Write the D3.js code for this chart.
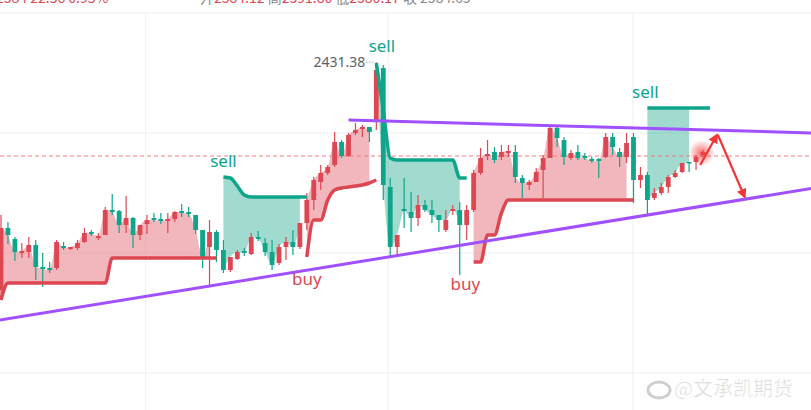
<!DOCTYPE html>
<html><head><meta charset="utf-8">
<script src="https://cdn.jsdelivr.net/npm/d3@7/dist/d3.min.js"></script>
<style>body{margin:0;background:#fff}svg{display:block}</style></head>
<body><svg id="c" width="811" height="410"></svg>
<script>
// [open, high, low, close]
const candles = [
[2317.5,2355,2312.5,2348.5],[2348.5,2351.5,2340.5,2345],[2343,2344,2332,2336.5],[2336,2341,2333.5,2337],
[2336.5,2344,2333.5,2340],[2340,2342.5,2322.5,2329],[2329,2336,2319,2328],[2328.5,2331.5,2326,2327.5],
[2328.5,2342.5,2327.5,2341.5],[2339.5,2341.5,2337.5,2338.5],[2338,2339,2337.5,2339],[2338.5,2342.5,2337.5,2341],
[2341.5,2348.5,2341,2346],[2346.5,2347.5,2344.5,2345.5],[2343.5,2346,2342.5,2344.5],[2345,2359,2345,2357.5],
[2357.5,2365.5,2355,2356.5],[2357,2357.5,2346,2350],[2350,2364.5,2346,2353.5],[2353.5,2354,2338.5,2345],
[2345,2350,2342.5,2350],[2350.5,2355,2345.5,2352.5],[2353.5,2356,2351.5,2352.5],[2353,2356,2350.5,2352],
[2352,2356,2346,2353],[2353,2357,2351.5,2356.5],[2357,2360.5,2354,2356],[2356.5,2359,2354,2355.5],
[2355,2355,2345.5,2347.5],[2347.5,2347.5,2328.5,2334],[2339,2352.5,2319.5,2346.5],[2346.5,2347.5,2331.5,2337.5],
[2337.5,2342.5,2326,2327.5],[2327.5,2334,2326.5,2334],[2333,2337.5,2332.5,2336.5],[2337,2338.5,2334.5,2336],
[2335.5,2346,2335,2344],[2344,2347,2342,2343],[2341,2343.5,2334.5,2336.5],[2336.5,2342.5,2327.5,2330],
[2331,2340.5,2330,2339],[2339,2344,2332.5,2341.5],[2341.5,2347.5,2335,2339],[2339,2351,2338,2351],
[2351,2366,2347.5,2362.5],[2362.5,2374,2357.5,2372.5],[2371.5,2380,2367.5,2376],[2376,2380,2375,2379],
[2380,2396.5,2379,2391.5],[2391.5,2392.5,2383.5,2384.5],[2384.5,2396,2384,2395],[2396,2401,2395,2397.5],
[2398,2400,2394,2399],[2399,2399,2391.5,2396.5],[2401.5,2431.38,2397.5,2427.5],[2428.5,2430,2362.5,2370],
[2369,2373.5,2334,2339],[2339,2345,2334,2345],[2358,2373.5,2348.5,2357],[2356.5,2366.5,2346.5,2353.5],
[2353.5,2365,2349.5,2360],[2360,2362.5,2356.5,2357.5],[2357.5,2362.5,2351,2355],[2355,2355,2346.5,2352.5],
[2347.5,2357.5,2346.5,2352.5],[2357,2360,2355,2358],[2357.5,2361.5,2325,2350],[2350,2360,2342.5,2357.5],
[2357.5,2377.5,2356.5,2376],[2376,2388.5,2375,2383.5],[2384.5,2392.5,2382.5,2385.5],[2386.5,2389,2381,2382.5],
[2384,2390,2382.5,2386.5],[2386,2390,2384,2387],[2386.5,2390,2371,2374],[2373.5,2375,2363.5,2371],
[2370,2372.5,2367.5,2371.5],[2371.5,2378.5,2371.5,2376.5],[2377.5,2385,2363.5,2383.5],[2383.5,2400,2383.5,2398.5],
[2398.5,2400,2389,2393.5],[2392.5,2394,2380,2384],[2383.5,2387.5,2382.5,2386],[2386.5,2390,2382.5,2383.5],
[2384.5,2386,2382.5,2383.5],[2383,2384,2381,2382],[2383,2383.5,2373.5,2382],[2384,2396,2383.5,2394],
[2394,2396,2385,2389],[2386.5,2388.5,2379,2384],[2384,2396,2381,2391],[2394,2396,2361,2372.5],
[2372.5,2379,2368.5,2375],[2375,2376.5,2355,2362.5],[2363.5,2368.5,2362.5,2366],[2366,2371,2365,2369],
[2369,2375,2366,2374],[2374,2377.5,2373.5,2376],[2376.5,2381,2376,2381],[2381.5,2381.5,2376.5,2381],
[2381.5,2385,2377.5,2384],[2385,2387.5,2384,2386.5]
];
const upSeg1 = {start:0, vals:[2312.5,2321,2321,2321,2321,2321,2321,2321,2321,2321,2321,2321,2321,2321,2321,2321,2333.5,2333.5,2333.5,2333.5,2333.5,2333.5,2333.5,2333.5,2333.5,2333.5,2333.5,2333.5,2333.5,2333.5,2333.5,2333.5], fillEnd:30};
const dnSeg1 = {start:32, vals:[2374,2373.5,2369.5,2365,2364,2364,2364,2364,2364,2364,2364,2364,2364], fillEnd:43};
const upSeg2 = {start:44, vals:[2334,2352.5,2352.5,2362.5,2367.5,2368.5,2369,2369.5,2370,2371,2372.5], fillEnd:53};
const dnSeg2 = {start:54, vals:[2431,2407.5,2383.5,2382.5,2382.5,2382.5,2382.5,2382.5,2382.5,2382.5,2382.5,2382.5,2373.5,2373.5], fillEnd:66};
const upSeg3 = {start:68, vals:[2331.5,2331.5,2345,2345,2356,2362.5,2362.5,2362.5,2362.5,2362.5,2362.5,2362.5,2362.5,2362.5,2362.5,2362.5,2362.5,2362.5,2362.5,2362.5,2362.5,2362.5,2362.5,2362.5], fillEnd:90};
const dnSeg3 = {start:93, vals:[2408.5,2408.5,2408.5,2408.5,2408.5,2408.5,2408.5,2408.5,2408.5,2408.5], fillEnd:99};
const upperTrend = [[50,2402.5],[117,2396]];
const lowerTrend = [[-0.2,2302.5],[117,2368.5]];
const lastPriceLine = 2384.5;
const arrowPts = [[100.6,2380],[103,2395],[107,2364]];
const gridPrices = [2456,2396,2336,2276];
const gridIdx = [20.8,55.7,90.9];
const labels = [
  {t:"sell", i:54.8, p:2436.5, c:"teal"},
  {t:"sell", i:32, p:2379, c:"teal"},
  {t:"buy", i:44, p:2320, c:"red"},
  {t:"buy", i:66.8, p:2317.5, c:"red"},
  {t:"sell", i:92.7, p:2413.5, c:"teal"}
];
const highLabel = {t:"2431.38", i:54, p:2431.38};

const RED="#dd4752", TEAL="#0ea58b", PINK="rgba(228,112,122,0.5)", TFILL="rgba(32,170,140,0.42)", PURPLE="#a050ff";
const svg=d3.select("#c");
const x=d3.scaleLinear().domain([0,101]).range([1,703]);
const y=d3.scaleLinear().domain([2396,2456]).range([133,13]);

// header (cut off at top, as in the reference)
svg.append("text").attr("x",-4).attr("y",3).attr("font-family","Noto Sans CJK SC").attr("font-size",14).attr("fill",RED)
  .text("2384      22.56      0.95%");
svg.append("text").attr("x",200).attr("y",3).attr("font-family","Noto Sans CJK SC").attr("font-size",14).attr("fill","#888")
  .html('开<tspan fill="'+RED+'">2384.12</tspan> 高<tspan fill="'+RED+'">2391.80</tspan> 低<tspan fill="'+RED+'">2380.17</tspan> 收 2384.63');
const g=svg.append("g");
g.selectAll(".h").data(gridPrices).join("line").attr("x1",0).attr("x2",811).attr("y1",d=>y(d)).attr("y2",d=>y(d)).attr("stroke","#eef0f3");
g.selectAll(".v").data(gridIdx).join("line").attr("y1",13).attr("y2",410).attr("x1",d=>x(d)).attr("x2",d=>x(d)).attr("stroke","#eef0f3");

function seg(s){return s.vals.map((v,k)=>({i:s.start+k,v}));}
function drawFill(s,col){
  const d=seg(s).filter(o=>o.i<=s.fillEnd);
  svg.append("path").attr("fill",col).attr("d",d3.area().x(o=>x(o.i)).y0(o=>y(o.v)).y1(o=>y(candles[o.i][3])).curve(d3.curveMonotoneX)(d));
}
[upSeg1,upSeg2,upSeg3].forEach(s=>drawFill(s,PINK));
[dnSeg1,dnSeg2,dnSeg3].forEach(s=>drawFill(s,TFILL));

svg.append("line").attr("x1",0).attr("x2",811).attr("y1",y(lastPriceLine)).attr("y2",y(lastPriceLine)).attr("stroke","#f07c84").attr("stroke-dasharray","4,3").attr("stroke-width",1);

const cg=svg.append("g");
candles.forEach((c,i)=>{
  const up=c[3]>=c[0], col=up?RED:TEAL;
  cg.append("line").attr("x1",x(i)).attr("x2",x(i)).attr("y1",y(c[1])).attr("y2",y(c[2])).attr("stroke",col).attr("stroke-width",1.2);
  const t=y(Math.max(c[0],c[3])), b=y(Math.min(c[0],c[3]));
  cg.append("rect").attr("x",x(i)-2.4).attr("width",4.8).attr("y",t).attr("height",Math.max(1.5,b-t)).attr("fill",col);
});

function drawLine(s,col){
  svg.append("path").attr("fill","none").attr("stroke",col).attr("stroke-width",3.5).attr("stroke-linejoin","round")
    .attr("d",d3.line().x(o=>x(o.i)).y(o=>y(o.v)).curve(d3.curveMonotoneX)(seg(s)));
}
[upSeg1,upSeg2,upSeg3].forEach(s=>drawLine(s,RED));
[dnSeg1,dnSeg2,dnSeg3].forEach(s=>drawLine(s,TEAL));

[upperTrend,lowerTrend].forEach(t=>svg.append("line").attr("x1",x(t[0][0])).attr("y1",y(t[0][1])).attr("x2",x(t[1][0])).attr("y2",y(t[1][1])).attr("stroke",PURPLE).attr("stroke-width",3));

const defs=svg.append("defs");
const rg=defs.append("radialGradient").attr("id","glow");
rg.append("stop").attr("offset","0%").attr("stop-color","#f23a3a").attr("stop-opacity",0.75);
rg.append("stop").attr("offset","100%").attr("stop-color","#f23a3a").attr("stop-opacity",0);
svg.append("circle").attr("cx",x(100.8)).attr("cy",y(2386)).attr("r",13).attr("fill","url(#glow)");
defs.append("marker").attr("id","ah").attr("viewBox","0 0 10 10").attr("refX",8).attr("refY",5).attr("markerWidth",4.5).attr("markerHeight",4.5).attr("orient","auto")
  .append("path").attr("d","M0,0L10,5L0,10Z").attr("fill","#f03535");
svg.append("line").attr("x1",x(arrowPts[0][0])).attr("y1",y(arrowPts[0][1])).attr("x2",x(arrowPts[1][0])).attr("y2",y(arrowPts[1][1])).attr("stroke","#f03535").attr("stroke-width",2.2).attr("marker-end","url(#ah)");
svg.append("line").attr("x1",x(arrowPts[1][0])+1).attr("y1",y(arrowPts[1][1])).attr("x2",x(arrowPts[2][0])).attr("y2",y(arrowPts[2][1])).attr("stroke","#f03535").attr("stroke-width",2.2).attr("marker-end","url(#ah)");

labels.forEach(l=>svg.append("text").attr("x",x(l.i)).attr("y",y(l.p)).attr("text-anchor","middle").attr("font-family","Noto Sans, sans-serif").attr("font-size",17)
  .attr("fill",l.c==="teal"?TEAL:RED).text(l.t));
svg.append("text").attr("x",x(highLabel.i)-11).attr("y",y(highLabel.p)+5).attr("text-anchor","end").attr("font-family","Noto Sans, sans-serif").attr("font-size",14).attr("fill","#5d606b").text(highLabel.t);
svg.append("line").attr("x1",x(highLabel.i)-10).attr("x2",x(highLabel.i)-1).attr("y1",y(highLabel.p)).attr("y2",y(highLabel.p)).attr("stroke","#7a7d88").attr("stroke-dasharray","1,2");

const wm=svg.append("g");
wm.append("ellipse").attr("cx",659).attr("cy",390).attr("rx",11).attr("ry",8).attr("fill","none").attr("stroke","#cfcfcf").attr("stroke-width",3);
wm.append("text").attr("x",674).attr("y",396).attr("font-family","Noto Sans CJK SC").attr("font-size",20).attr("fill","#d3d3d3").attr("stroke","#fff").attr("stroke-width",0.6).text("@文承凯期货");
</script></body></html>
